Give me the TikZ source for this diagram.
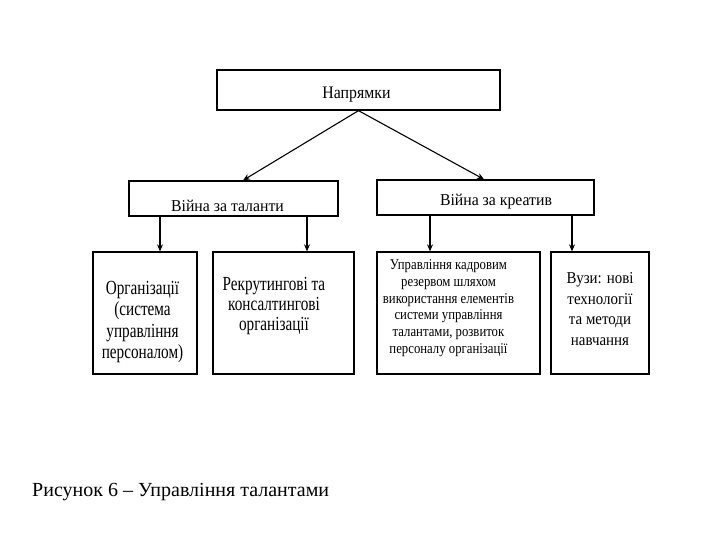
\documentclass[tikz,border=0pt]{standalone}
\usepackage{fontspec}
\setmainfont{Liberation Serif}
\newfontfamily\narrowA[FakeStretch=0.76]{Liberation Serif}
\newfontfamily\narrowB[FakeStretch=0.85]{Liberation Serif}
\newfontfamily\narrowC[FakeStretch=0.90]{Liberation Serif}
\newfontfamily\narrowD[FakeStretch=0.95]{Liberation Serif}
\usetikzlibrary{arrows.meta, positioning}

\begin{document}
\begin{tikzpicture}[
    x=1pt, y=-1pt,
    box/.style={rectangle, draw=black, line width=1.3pt, inner sep=0pt},
    txt/.style={inner sep=0pt, anchor=base},
    leaftxt/.style={inner sep=0pt, anchor=north, align=center},
    arrow/.style={line width=1.1pt, -{Stealth[length=7pt, width=6pt]}}
]
\useasboundingbox (0,0) rectangle (720,540);

\node (dirs) [box, minimum width=283pt, minimum height=40pt,
    label={[txt, xshift=-2pt, yshift=-5pt, font=\narrowC\fontsize{17.6}{20}\selectfont]center:Напрямки}]
    at (358.5,90) {};

\node (warTal) [box, minimum width=209pt, minimum height=35pt,
    label={[txt, xshift=-6pt, yshift=-7.8pt, font=\narrowD\fontsize{16.6}{20}\selectfont]center:Війна за таланти}]
    at (233.5,198.5) {};
\node (warCre) [box, minimum width=217pt, minimum height=35pt,
    label={[txt, xshift=10.5pt, yshift=-4pt, font=\narrowD\fontsize{16.6}{20}\selectfont]center:Війна за креатив}]
    at (485.5,197.5) {};

\node (org) [box, minimum width=104pt, minimum height=122pt,
    label={[leaftxt, xshift=-2.5pt, yshift=-29.7pt, font=\narrowA\fontsize{20}{21.3}\selectfont]north:{Організації\\(система\\управління\\персоналом)}}]
    at (145,313) {};
\node (recr) [box, minimum width=141pt, minimum height=122pt,
    label={[leaftxt, xshift=-9.5pt, yshift=-25.5pt, font=\narrowA\fontsize{20}{20.3}\selectfont]north:{Рекрутингові та\\консалтингові\\організації}}]
    at (283.5,313) {};
\node (reserve) [box, minimum width=163pt, minimum height=122pt,
    label={[leaftxt, xshift=-10pt, yshift=-8pt, font=\narrowB\fontsize{15}{16.8}\selectfont]north:{Управління кадровим\\резервом шляхом\\використання елементів\\системи управління\\талантами, розвиток\\персоналу організації}}]
    at (458.5,313) {};
\node (univ) [box, minimum width=98pt, minimum height=122pt,
    label={[leaftxt, yshift=-20.8pt, font=\narrowC\fontsize{16.6}{20.8}\selectfont]north:{Вузи: нові\\технології\\та методи\\навчання}}]
    at (600,313) {};

\node (caption) [inner sep=0pt, anchor=base west, font=\fontsize{20}{24}\selectfont]
    at (32,496.3) {Рисунок 6 -- Управління талантами};

% connectors
\draw [arrow] (dirs.south) -- (warTal.north -| 243,0);
\draw [arrow] (dirs.south) -- (warCre.north -| 484,0);
\draw [arrow] (warTal.south -| 160,0) -- (org.north -| 160,0);
\draw [arrow] (warTal.south -| 307,0) -- (recr.north -| 307,0);
\draw [arrow] (warCre.south -| 430,0) -- (reserve.north -| 430,0);
\draw [arrow] (warCre.south -| 572,0) -- (univ.north -| 572,0);

\end{tikzpicture}
\end{document}
